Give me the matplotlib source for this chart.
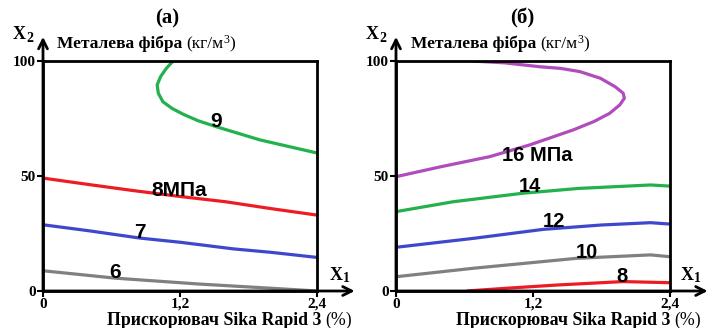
import matplotlib
matplotlib.use('Agg')
import matplotlib.pyplot as plt

W, H = 712, 328

# panel (a) contour lines: x1 = Sika Rapid 3 (%), x2 = metal fibre (kg/m3)
a9_x = [1.14, 1.08, 1.03, 1.00, 1.01, 1.05, 1.13, 1.23, 1.36, 1.52, 1.90, 2.40]
a9_y = [100, 96.8, 93.2, 89.6, 86, 82.3, 79.4, 76.8, 74, 71.4, 65.7, 60]
a8_x = [0, 0.4, 0.8, 1.2, 1.6, 2.0, 2.4]
a8_y = [49.1, 46.3, 43.6, 41.1, 38.8, 35.8, 33]
a7_x = [0, 0.4, 0.85, 1.2, 1.67, 2.0, 2.4]
a7_y = [28.8, 26.2, 23, 21.2, 18.3, 16.8, 14.6]
a6_x = [0, 0.63, 1.375, 2.1, 2.4]
a6_y = [8.8, 5.6, 3.0, 0.9, 0]

# panel (б)
b16_x = [0, 0.39, 0.82, 1.17, 1.55, 1.73, 1.87, 1.96, 2.00, 1.99, 1.92,
         1.79, 1.61, 1.44, 1.26, 0.95, 0.66]
b16_y = [49.7, 54, 58.4, 63.5, 70, 73.6, 77.2, 80.9, 83.8, 86, 88.8,
         92.5, 95.4, 96.8, 97.5, 99.2, 100]
b14_x = [0, 0.5, 1.11, 1.6, 2.23, 2.4]
b14_y = [34.5, 38.8, 42.5, 44.6, 46.1, 45.6]
b12_x = [0, 0.68, 1.29, 1.8, 2.23, 2.4]
b12_y = [19, 22.9, 26.8, 28.7, 29.7, 29.1]
b10_x = [0, 0.68, 1.58, 2.23, 2.4]
b10_y = [6.2, 9.9, 14.2, 15.7, 14.9]
b8_x = [0.62, 0.97, 1.41, 1.99, 2.4]
b8_y = [0, 1.2, 2.6, 4.1, 3.6]

x_ticks = [0, 1.2, 2.4]
x_tick_labels = ['0', '1,2', '2,4']
y_ticks = [0, 50, 100]

GREEN = '#22b14c'
RED = '#ed1c24'
BLUE = '#3f48cc'
GRAY = '#808080'
PURPLE = '#b04cbc'

panel_a = [
    (a9_x, a9_y, GREEN, '9', 1.52, 73.6),
    (a8_x, a8_y, RED, '8МПа', 1.19, 43.6),
    (a7_x, a7_y, BLUE, '7', 0.85, 25.5),
    (a6_x, a6_y, GRAY, '6', 0.63, 8.1),
]
panel_b = [
    (b16_x, b16_y, PURPLE, '16 МПа', 1.24, 59),
    (b14_x, b14_y, GREEN, '14', 1.17, 45.6),
    (b12_x, b12_y, BLUE, '12', 1.38, 30.1),
    (b10_x, b10_y, GRAY, '10', 1.67, 16.7),
    (b8_x, b8_y, RED, '8', 1.98, 6.2),
]

SERIF = 'Liberation Serif'
SANS = 'Liberation Sans'

fig = plt.figure(figsize=(W / 100, H / 100), dpi=100)
renderer = fig.canvas.get_renderer()


def fx(px):
    return px / W


def fy(py):
    return 1 - py / H


def put_run(parts, x0, base):
    # place text pieces one after the other (mixed size / weight)
    x = x0
    for s, weight, size, dy, gap in parts:
        t = fig.text(fx(x), fy(base + dy), s, fontsize=size, fontweight=weight,
                     family=SERIF, va='baseline', ha='left')
        x += t.get_window_extent(renderer=renderer).width + gap


def draw_panel(left_px, lines, title, title_x, label_size):
    ax = fig.add_axes([fx(left_px), fy(291), 274 / W, 230 / H])
    for xs, ys, col, lab, lx, ly in lines:
        ax.plot(xs, ys, color=col, lw=2.3, solid_capstyle='butt',
                solid_joinstyle='round')
        ax.text(lx, ly, lab, fontsize=label_size, fontweight='bold',
                family=SANS, ha='center', va='center', zorder=5)
    ax.set_xlim(0, 2.4)
    ax.set_ylim(0, 100)
    for sp in ax.spines.values():
        sp.set_linewidth(2)
    ax.set_xticks(x_ticks)
    ax.set_xticklabels(x_tick_labels)
    ax.set_yticks(y_ticks)
    ax.tick_params(direction='out', length=4, width=1.5, pad=1)
    for lbl in ax.get_xticklabels() + ax.get_yticklabels():
        lbl.set_family(SERIF)
        lbl.set_fontweight('bold')
        lbl.set_fontsize(11)
    # axis arrows
    ax.annotate('', xy=(2.73, 0), xytext=(0, 0), annotation_clip=False,
                arrowprops=dict(arrowstyle='->', lw=2, color='black',
                                mutation_scale=16, shrinkA=0, shrinkB=0))
    ax.annotate('', xy=(0, 110.5), xytext=(0, 0), annotation_clip=False,
                arrowprops=dict(arrowstyle='->', lw=2, color='black',
                                mutation_scale=16, shrinkA=0, shrinkB=0))
    fig.text(fx(title_x), fy(18), title, fontsize=15, fontweight='bold',
             family=SERIF, ha='center', va='center')
    return ax


draw_panel(43, panel_a, '(а)', 167, 15)
draw_panel(396, panel_b, '(б)', 522, 14.5)

for x2_px, x1_px, ylab_px, xlab_px in [(13, 330, 57, 107), (366, 681, 411, 456)]:
    put_run([('X', 'bold', 13, 0, 0), ('2', 'bold', 10, 3, 0)], x2_px, 39)
    put_run([('X', 'bold', 13, 0, 0), ('1', 'bold', 10, 2, 0)], x1_px, 280)
    put_run([('Металева фібра', 'bold', 12.5, 0, 4),
             ('(кг/м', 'normal', 12.5, 0, 0),
             ('3', 'normal', 8.5, -5, 0),
             (')', 'normal', 12.5, 0, 0)],
            ylab_px, 48)
    put_run([('Прискорювач Sika Rapid 3', 'bold', 12.8, 0, 4),
             ('(%)', 'normal', 12.8, 0, 0)],
            xlab_px, 325)

fig.savefig('out.png', dpi=100)
